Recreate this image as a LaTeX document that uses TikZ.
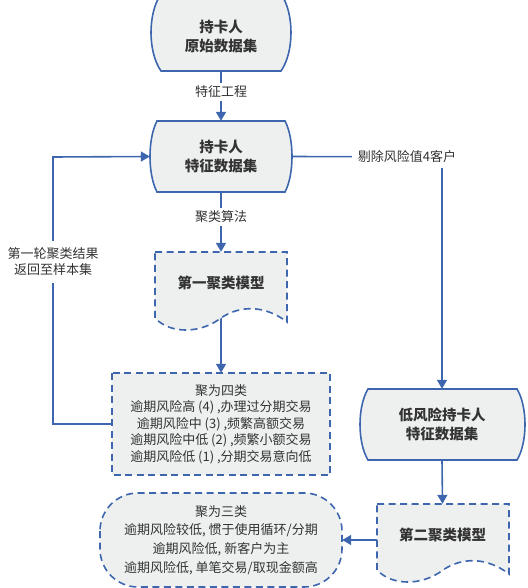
\documentclass[tikz,border=0pt]{standalone}
\usepackage{fontspec}
\setmainfont{Noto Sans CJK SC}
\usetikzlibrary{arrows.meta}
\definecolor{lineblue}{HTML}{3D66AE}
\definecolor{shapefill}{HTML}{EEF0F0}
\definecolor{txt}{HTML}{333333}
\pgfdeclarelayer{bg}
\pgfsetlayers{bg,main}
% stored-data shape: xl, xr, top, bottom, inset
\newcommand\sdata[5]{\path[solidshape] ({(#1)+(#5)},{#3}) -- ({(#2)-(#5)},{#3})
  .. controls ({(#2)+(#5)/3},{(#3)+((#4)-(#3))/4}) and ({(#2)+(#5)/3},{(#4)-((#4)-(#3))/4}) .. ({(#2)-(#5)},{#4})
  -- ({(#1)+(#5)},{#4})
  .. controls ({(#1)-(#5)/3},{(#4)-((#4)-(#3))/4}) and ({(#1)-(#5)/3},{(#3)+((#4)-(#3))/4}) .. ({(#1)+(#5)},{#3}) -- cycle;}
% document shape: xl, top
\newcommand\docshape[2]{\path[dashshape] (#1,#2) -- ({#1+132},#2) -- ({#1+132},{#2+70})
  .. controls ({#1+110},{#2+53}) and ({#1+85},{#2+53}) .. ({#1+66},{#2+66})
  .. controls ({#1+45},{#2+82}) and ({#1+15},{#2+82}) .. (#1,{#2+66}) -- cycle;}
\tikzset{
  solidshape/.style={fill=shapefill, draw=lineblue, line width=1.6pt},
  dashshape/.style={solidshape, dash pattern=on 7pt off 4.5pt},
  conn/.style={draw=lineblue, line width=1.6pt},
  arr/.style={-{Triangle[length=9pt,width=10pt]}},
  holder/.style={inner sep=0pt, align=center, text=txt},
  boxtitle/.style={holder, font=\fontsize{14.5}{19}\selectfont\bfseries},
  lbl/.style={fill=white, inner xsep=2pt, inner ysep=3pt, align=center, text=txt, font=\fontsize{13}{16}\selectfont}
}
\begin{document}
\begin{tikzpicture}[x=1pt,y=-1pt]
\useasboundingbox (0,0) rectangle (527,588);
% text holders
\node[boxtitle, minimum width=140, minimum height=68] (n1) at (221,37) {持卡人\\原始数据集};
\node[boxtitle, minimum width=142, minimum height=71] (n2) at (221,156.5) {持卡人\\特征数据集};
\node[boxtitle, minimum width=132, minimum height=62] (d1) at (221,283) {第一聚类模型};
\node[holder, font=\fontsize{13}{16.5}\selectfont, minimum width=218, minimum height=102] (c4) at (221,424)
  {聚为四类\\逾期风险高 (4) ,办理过分期交易\\逾期风险中 (3) ,频繁高额交易\\逾期风险中低 (2) ,频繁小额交易\\逾期风险低 (1) ,分期交易意向低};
\node[boxtitle, minimum width=165, minimum height=71] (lr) at (442,424.5) {低风险持卡人\\特征数据集};
\node[boxtitle, minimum width=131, minimum height=62] (d2) at (442.5,535) {第二聚类模型};
\node[holder, font=\fontsize{13}{18.7}\selectfont, minimum width=242, minimum height=94] (c3) at (221,540)
  {聚为三类\\逾期风险较低, 惯于使用循环/分期\\逾期风险低, 新客户为主\\逾期风险低, 单笔交易/取现金额高};
\coordinate (rc) at (442,157);
\coordinate (lp) at (53,157);
\begin{pgfonlayer}{bg}
% connectors
\draw[conn,arr] (n1.south) -- (n2.north);
\draw[conn,arr] (n2.south) -- (d1.north);
\draw[conn,arr] (d1.south) -- (c4.north);
\draw[conn,arr] (n2.east) -- (rc) -- (lr.north);
\draw[conn,arr] (c4.west) -| (lp) -- (n2.west);
\draw[conn,arr] (lr.south) -- (d2.north);
\draw[conn,arr] (d2.west |- c3.east) -- (c3.east);
% shapes
\sdata{151}{291}{-6}{71}{10}
\sdata{150}{292}{121}{192}{7}
\docshape{155}{252}
\path[dashshape] (112,373) rectangle (330,475);
\sdata{360}{525}{389}{460}{8}
\docshape{377}{504}
\path[dashshape, rounded corners=38pt] (100,493) rectangle (342,587);
\end{pgfonlayer}
% connector labels
\node[lbl] (l1) at (221,92) {特征工程};
\node[lbl] (l2) at (221,217) {聚类算法};
\node[lbl, inner xsep=6pt, inner ysep=5pt] (l3) at (407,157) {剔除风险值4客户};
\node[lbl, inner ysep=7pt] (l4) at (53,262) {第一轮聚类结果\\返回至样本集};
\end{tikzpicture}
\end{document}
